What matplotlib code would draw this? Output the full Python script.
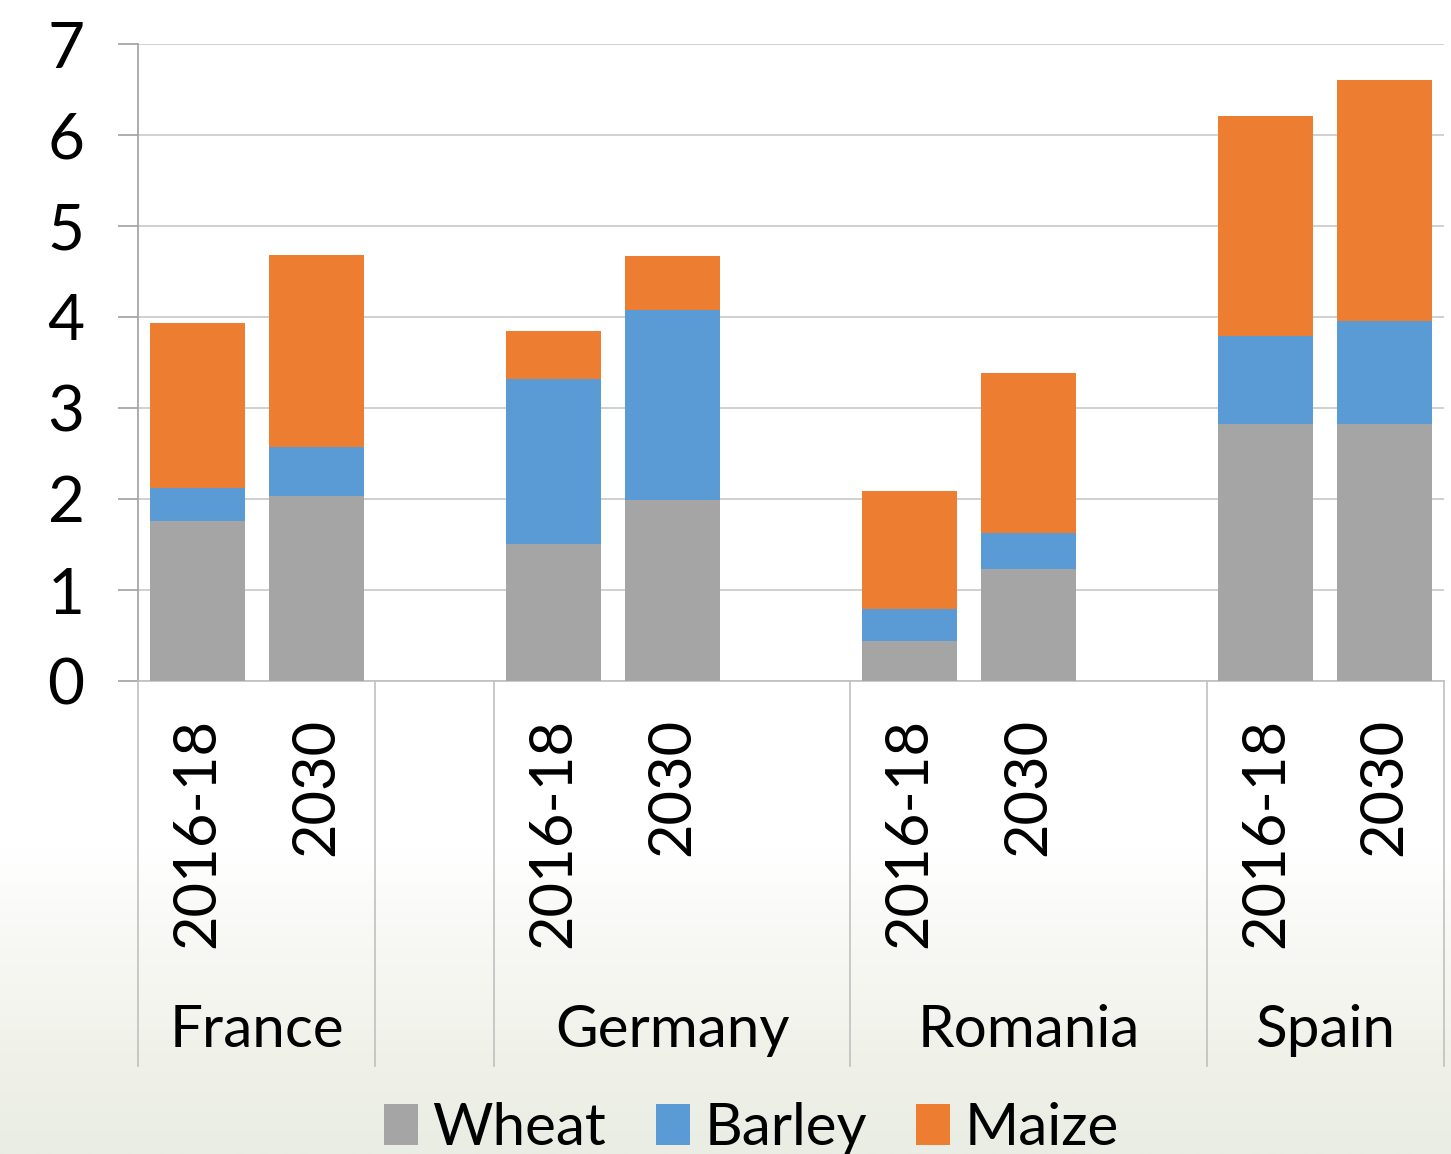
# Stacked bars: wheat, barley and maize by country and period
import numpy as np
import matplotlib.pyplot as plt
from matplotlib.colors import LinearSegmentedColormap
import matplotlib.transforms as mtransforms

plt.rcParams['font.family'] = ['Lato', 'DejaVu Sans']

# data
countries = ["France", "Germany", "Romania", "Spain"]
periods = ["2016-18", "2030"]
wheat = [1.76, 2.03, 1.51, 1.99, 0.44, 1.23, 2.82, 2.82]
barley = [0.36, 0.54, 1.81, 2.09, 0.35, 0.40, 0.97, 1.14]
maize = [1.81, 2.11, 0.53, 0.59, 1.30, 1.75, 2.42, 2.64]

# slot positions (Excel-like layout with empty slots between groups)
slots = [0, 1, 3, 4, 6, 7, 9, 10]
separators = [-0.5, 1.5, 2.5, 5.5, 8.5, 10.5]
country_centers = [0.5, 4.0, 7.0, 9.5]

fig = plt.figure(figsize=(14.51, 11.54), dpi=100)

# soft background gradient at the bottom
bg = fig.add_axes([0, 0, 1, 1], zorder=-10)
grad = np.linspace(0, 1, 400).reshape(-1, 1)
cmap = LinearSegmentedColormap.from_list("bg", ["#ffffff", "#f7f8f3", "#f0f2ea", "#eaede4"])
bg.imshow(np.where(grad < 0.735, 0, (grad - 0.735) / 0.265), aspect='auto', cmap=cmap,
          extent=[0, 1, 0, 1], vmin=0, vmax=1)
bg.axis('off')

ax = fig.add_axes([138 / 1451, 1 - 681 / 1154, (1444 - 138) / 1451, 637 / 1154])
ax.patch.set_alpha(0)

w = 0.8
b2 = np.array(wheat) + np.array(barley)
ax.bar(slots, wheat, width=w, color="#a5a5a5", label="Wheat", zorder=3)
ax.bar(slots, barley, width=w, bottom=wheat, color="#5b9bd5", label="Barley", zorder=3)
ax.bar(slots, maize, width=w, bottom=b2, color="#ed7d31", label="Maize", zorder=3)

ax.set_xlim(-0.5, 10.5)
ax.set_ylim(0, 7)
ax.set_yticks(range(0, 8))
ax.tick_params(axis='y', labelsize=46, length=14.5, color="#a0a0a0", width=1.2, pad=24)
ax.set_xticks([])
ax.grid(axis='y', color="#c8c8c8", linewidth=1.2, zorder=0)
for s in ["top", "right"]:
    ax.spines[s].set_visible(False)
ax.spines["left"].set_color("#a0a0a0")
ax.spines["bottom"].set_color("#c0c0c0")
ax.spines["left"].set_linewidth(1.2)
ax.spines["bottom"].set_linewidth(1.2)

trans = mtransforms.blended_transform_factory(ax.transData, ax.transAxes)
for x in separators:
    ax.plot([x, x], [0, -0.605], color="#c0c0c0", linewidth=1.2, transform=trans,
            clip_on=False)

for i, x in enumerate(slots):
    ax.text(x, -0.058, periods[i % 2], rotation=90, ha='center', va='top',
            fontsize=43, transform=trans)
for name, x in zip(countries, country_centers):
    ax.text(x, -0.548, name, ha='center', va='center', fontsize=42, transform=trans)

fig.legend(loc='lower center', bbox_to_anchor=(0.518, -0.046), ncol=3, frameon=False,
           fontsize=42, handlelength=0.58, handleheight=0.7, handletextpad=0.25,
           columnspacing=0.85)

fig.savefig("out.png", dpi=100)
